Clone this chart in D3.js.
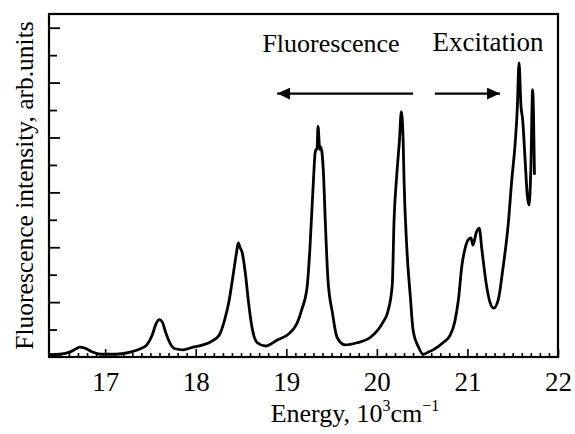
<!DOCTYPE html>
<html>
<head>
<meta charset="utf-8">
<script src="https://cdn.jsdelivr.net/npm/d3@7"></script>
<style>
  body { margin: 0; background: #fff; }
  text { font-family: "Liberation Serif", "Times New Roman", serif; fill: #000; }
</style>
</head>
<body>
<svg id="chart" width="575" height="434"></svg>
<script>
"use strict";

// spectrum (energy in 10^3 cm^-1, intensity in arb. units)
const energy = [16.38, 16.50, 16.61, 16.68, 16.72, 16.78, 16.86, 16.95, 17.11, 17.28,
  17.39, 17.46, 17.52, 17.56, 17.60, 17.63, 17.67, 17.72, 17.77, 17.86,
  17.97, 18.08, 18.18, 18.26, 18.32, 18.37, 18.41, 18.45, 18.47, 18.49,
  18.51, 18.55, 18.58, 18.62, 18.68, 18.77, 18.90, 19.04, 19.12, 19.17,
  19.23, 19.26, 19.30, 19.32, 19.34, 19.35, 19.37, 19.38, 19.41, 19.43,
  19.46, 19.51, 19.56, 19.65, 19.78, 19.93, 20.07, 20.12, 20.17, 20.19,
  20.22, 20.25, 20.27, 20.29, 20.30, 20.33, 20.37, 20.40, 20.46, 20.51,
  20.57, 20.62, 20.73, 20.81, 20.86, 20.90, 20.94, 20.97, 21.01, 21.04,
  21.06, 21.10, 21.13, 21.16, 21.21, 21.25, 21.29, 21.34, 21.39, 21.45,
  21.49, 21.53, 21.55, 21.57, 21.59, 21.61, 21.64, 21.66, 21.68, 21.70,
  21.72, 21.74];
const intensity = [0.04, 0.05, 0.09, 0.15, 0.18, 0.16, 0.09, 0.05, 0.05, 0.09,
  0.15, 0.22, 0.40, 0.60, 0.68, 0.64, 0.44, 0.24, 0.15, 0.13,
  0.18, 0.22, 0.29, 0.40, 0.68, 1.04, 1.46, 1.90, 2.08, 1.99,
  1.92, 1.50, 1.04, 0.55, 0.26, 0.20, 0.31, 0.44, 0.62, 0.86,
  1.28, 1.95, 3.23, 3.74, 3.81, 4.20, 3.78, 3.83, 3.36, 2.50,
  1.41, 0.80, 0.36, 0.22, 0.26, 0.36, 0.64, 0.82, 1.31, 2.50,
  3.32, 3.96, 4.47, 3.96, 3.23, 2.01, 1.09, 0.49, 0.18, 0.05,
  0.09, 0.13, 0.26, 0.40, 0.64, 1.04, 1.68, 1.95, 2.14, 2.17,
  2.04, 2.28, 2.35, 1.95, 1.31, 0.99, 0.89, 1.04, 1.59, 2.41,
  3.23, 3.96, 4.51, 5.36, 4.60, 4.32, 3.50, 2.96, 2.77, 3.41,
  4.87, 3.32];

const xTickLabels = [17, 18, 19, 20, 21, 22];
const yMajorTicks = [1, 2, 3, 4, 5, 6];

// arrows: [from, to] in energy units, drawn at a fixed intensity
const fluoArrow = [20.40, 18.90];
const excArrow = [20.64, 21.36];
const arrowLevel = 4.8;

const margin = { left: 49, right: 17, top: 14, bottom: 77 };
const W = 575, H = 434;

const svg = d3.select("#chart");

const x = d3.scaleLinear()
  .domain([16.38, 22])
  .range([margin.left, W - margin.right]);

const y = d3.scaleLinear()
  .domain([0, 6.25])
  .range([H - margin.bottom, margin.top]);

// frame
svg.append("rect")
  .attr("x", x.range()[0])
  .attr("y", y.range()[1])
  .attr("width", x.range()[1] - x.range()[0])
  .attr("height", y.range()[0] - y.range()[1])
  .attr("fill", "none")
  .attr("stroke", "#000")
  .attr("stroke-width", 2.2);

// x ticks, pointing inward
const xMinor = d3.range(164, 221).map(d => d / 10).filter(d => d > 16.38 && d < 22);
const xAxisMinor = d3.axisBottom(x)
  .tickValues(xMinor.filter(d => Math.abs(d - Math.round(d)) > 1e-6))
  .tickSize(-4)
  .tickFormat("");
const xAxisMajor = d3.axisBottom(x)
  .tickValues(xTickLabels)
  .tickSize(-8)
  .tickPadding(15)
  .tickFormat(d3.format("d"));

const gxMinor = svg.append("g")
  .attr("transform", "translate(0," + y(0) + ")")
  .call(xAxisMinor);
const gx = svg.append("g")
  .attr("transform", "translate(0," + y(0) + ")")
  .call(xAxisMajor);

[gxMinor, gx].forEach(g => {
  g.select(".domain").remove();
  g.selectAll("line").attr("stroke", "#000").attr("stroke-width", 1.6);
});
gx.selectAll("text")
  .style("font-family", "'Liberation Serif', serif")
  .style("font-size", "27px")
  .attr("fill", "#000");

// y ticks, pointing inward, no labels
const yMinor = d3.range(1, 13).map(d => d * 0.5).filter(d => d % 1 !== 0);
const gyMinor = svg.append("g")
  .attr("transform", "translate(" + x.range()[0] + ",0)")
  .call(d3.axisLeft(y).tickValues(yMinor).tickSize(-8).tickFormat(""));
const gy = svg.append("g")
  .attr("transform", "translate(" + x.range()[0] + ",0)")
  .call(d3.axisLeft(y).tickValues(yMajorTicks).tickSize(-11).tickFormat(""));
[gyMinor, gy].forEach(g => {
  g.select(".domain").remove();
  g.selectAll("line").attr("stroke", "#000").attr("stroke-width", 1.8);
});

// spectrum
const pts = energy.map((e, i) => [e, intensity[i]]);
const line = d3.line()
  .curve(d3.curveMonotoneX)
  .x(d => x(d[0]))
  .y(d => y(d[1]));

svg.append("path")
  .datum(pts)
  .attr("d", line)
  .attr("fill", "none")
  .attr("stroke", "#000")
  .attr("stroke-width", 2.8)
  .attr("stroke-linejoin", "round");

// arrows
svg.append("defs").append("marker")
  .attr("id", "head")
  .attr("viewBox", "0 0 13 12")
  .attr("refX", 13).attr("refY", 6)
  .attr("markerWidth", 13).attr("markerHeight", 12)
  .attr("markerUnits", "userSpaceOnUse")
  .attr("orient", "auto")
  .append("path")
  .attr("d", "M0,0 L13,6 L0,12 Z")
  .attr("fill", "#000");

[fluoArrow, excArrow].forEach(a => {
  svg.append("line")
    .attr("x1", x(a[0])).attr("x2", x(a[1]))
    .attr("y1", y(arrowLevel)).attr("y2", y(arrowLevel))
    .attr("stroke", "#000")
    .attr("stroke-width", 2.2)
    .attr("marker-end", "url(#head)");
});

svg.append("text")
  .attr("x", 331).attr("y", 52)
  .attr("text-anchor", "middle")
  .style("font-size", "26px")
  .text("Fluorescence");

svg.append("text")
  .attr("x", 488).attr("y", 51)
  .attr("text-anchor", "middle")
  .style("font-size", "27px")
  .text("Excitation");

// axis titles
const xt = svg.append("text")
  .attr("x", 355).attr("y", 422)
  .attr("text-anchor", "middle")
  .style("font-size", "26px");
xt.append("tspan").text("Energy, 10");
xt.append("tspan").attr("dy", -11).style("font-size", "16px").text("3");
xt.append("tspan").attr("dy", 11).text("cm");
xt.append("tspan").attr("dy", -11).style("font-size", "16px").text("\u22121");

svg.append("text")
  .attr("transform", "translate(33," + ((y.range()[0] + y.range()[1]) / 2) + ") rotate(-90)")
  .attr("text-anchor", "middle")
  .style("font-size", "25.5px")
  .text("Fluorescence intensity, arb.units");
</script>
</body>
</html>
